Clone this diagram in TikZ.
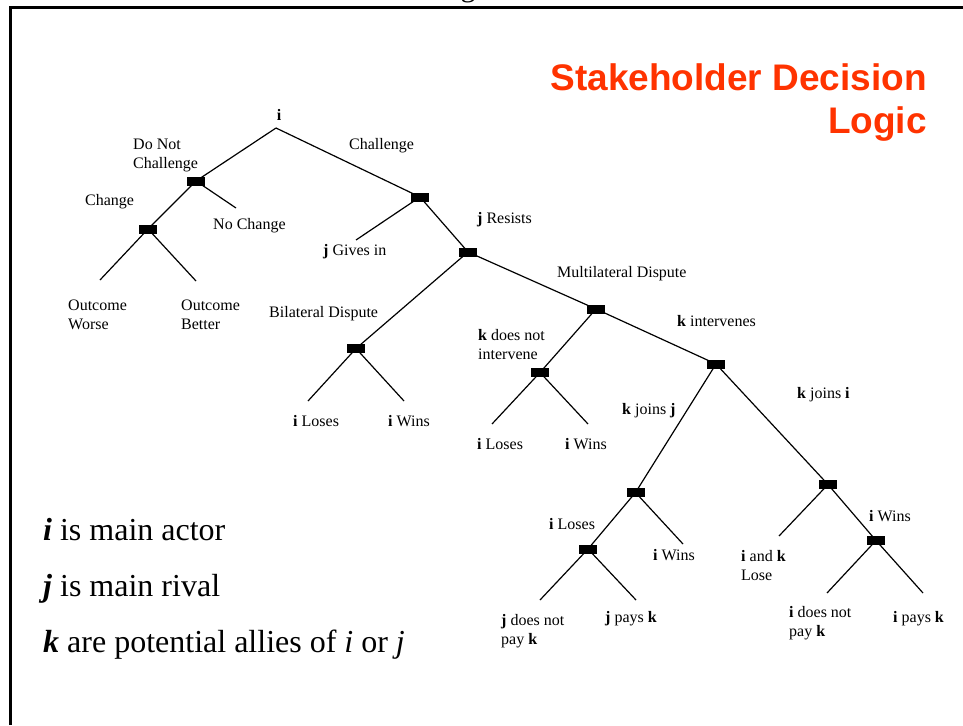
\documentclass[tikz,border=0pt]{standalone}
\usepackage{fontspec}
\setmainfont{Liberation Serif}
\newfontfamily\titlefont{Liberation Sans}
\definecolor{titleorange}{RGB}{255,51,0}
\tikzset{
  dnode/.style={fill=black, draw=none, minimum width=18pt, minimum height=9pt, inner sep=0pt, outer sep=0pt},
  branch/.style={line width=1.2pt},
  lbl/.style={anchor=west, inner sep=0pt, yshift=-2pt, font=\fontsize{16}{19}\selectfont, align=left},
  legendtxt/.style={anchor=base west, inner sep=0pt, font=\fontsize{32}{38}\selectfont},
  ttl/.style={anchor=base east, inner sep=0pt, font=\titlefont\bfseries\fontsize{37}{44}\selectfont, text=titleorange},
  frameline/.style={line width=2.8pt, line join=miter},
}
\begin{document}
\begin{tikzpicture}[x=1pt,y=-1pt]
\useasboundingbox (0,0) rectangle (963,725);
% frame
\coordinate (fbl) at (10.3,725);
\coordinate (ftl) at (10.3,7.3);
\coordinate (ftr) at (963,7.3);
\draw[frameline] (fbl) -- (ftl) -- (ftr);
% cut-off glyph of a title above the page
\node[anchor=base, inner sep=0pt, font=\fontsize{30}{36}\selectfont] (gfrag) at (468,-3.5) {g};

% decision nodes
\coordinate (R) at (276,128);
\node[dnode] (A) at (196,181) {};
\node[dnode] (B) at (148,229) {};
\node[dnode] (C) at (420,197) {};
\node[dnode] (D) at (468,252) {};
\node[dnode] (E) at (356,348.5) {};
\node[dnode] (F) at (596,309) {};
\node[dnode] (G) at (540,372.5) {};
\node[dnode] (H) at (716,364) {};
\node[dnode] (I) at (635.5,492.5) {};
\node[dnode] (J) at (588,549) {};
\node[dnode] (K) at (828,484.5) {};
\node[dnode] (L) at (876,540.5) {};
% leaf ends
\coordinate (B1) at (100,280);
\coordinate (B2) at (196,281);
\coordinate (A2) at (236,208);
\coordinate (C1) at (356,240);
\coordinate (E1) at (308,401);
\coordinate (E2) at (404,401);
\coordinate (G1) at (492,424);
\coordinate (G2) at (588,424);
\coordinate (I2) at (683,544);
\coordinate (J1) at (540,600);
\coordinate (J2) at (636,600);
\coordinate (K1) at (779,536);
\coordinate (L1) at (827,593);
\coordinate (L2) at (923,593);

% branches
\draw[branch] (R) -- (A.center);
\draw[branch] (R) -- (C.center);
\draw[branch] (A.center) -- (B.center);
\draw[branch] (A.center) -- (A2);
\draw[branch] (B.center) -- (B1);
\draw[branch] (B.center) -- (B2);
\draw[branch] (C.center) -- (C1);
\draw[branch] (C.center) -- (D.center);
\draw[branch] (D.center) -- (E.center);
\draw[branch] (D.center) -- (F.center);
\draw[branch] (E.center) -- (E1);
\draw[branch] (E.center) -- (E2);
\draw[branch] (F.center) -- (G.center);
\draw[branch] (F.center) -- (H.center);
\draw[branch] (G.center) -- (G1);
\draw[branch] (G.center) -- (G2);
\draw[branch] (H.center) -- (I.center);
\draw[branch] (H.center) -- (K.center);
\draw[branch] (I.center) -- (J.center);
\draw[branch] (I.center) -- (I2);
\draw[branch] (J.center) -- (J1);
\draw[branch] (J.center) -- (J2);
\draw[branch] (K.center) -- (K1);
\draw[branch] (K.center) -- (L.center);
\draw[branch] (L.center) -- (L1);
\draw[branch] (L.center) -- (L2);
% redraw boxes on top
\foreach \n in {A,B,C,D,E,F,G,H,I,J,K,L}{\fill (\n.south west) rectangle (\n.north east);}

% labels
\node[lbl, anchor=center] (tRoot) at (279,113) {\textbf{i}};
\node[lbl] (tDNC) at (133,153) {Do Not\\Challenge};
\node[lbl] (tCh) at (349,144) {Challenge};
\node[lbl] (tChange) at (85,200) {Change};
\node[lbl] (tNoCh) at (213,224) {No Change};
\node[lbl] (tGives) at (323,250) {\textbf{j} Gives in};
\node[lbl] (tRes) at (477,218) {\textbf{j} Resists};
\node[lbl] (tOW) at (68,313) {Outcome\\Worse};
\node[lbl] (tOB) at (181,313) {Outcome\\Better};
\node[lbl] (tBil) at (269,312) {Bilateral Dispute};
\node[lbl] (tMul) at (557,272) {Multilateral Dispute};
\node[lbl] (tKdn) at (478,343) {\textbf{k} does not\\intervene};
\node[lbl] (tKint) at (677,319) {\textbf{k} intervenes};
\node[lbl] (tEL) at (293,419) {\textbf{i} Loses};
\node[lbl] (tEW) at (388,419) {\textbf{i} Wins};
\node[lbl] (tGL) at (477,442) {\textbf{i} Loses};
\node[lbl] (tGW) at (565,442) {\textbf{i} Wins};
\node[lbl] (tKJj) at (622,409) {\textbf{k} joins \textbf{j}};
\node[lbl] (tKJi) at (797,393) {\textbf{k} joins \textbf{i}};
\node[lbl] (tIL) at (549,522) {\textbf{i} Loses};
\node[lbl] (tIW) at (653,553) {\textbf{i} Wins};
\node[lbl] (tIK) at (741,564) {\textbf{i} and \textbf{k}\\Lose};
\node[lbl] (tKW) at (869,514) {\textbf{i} Wins};
\node[lbl] (tJdn) at (501,629) {\textbf{j} does not\\pay \textbf{k}};
\node[lbl] (tJp) at (605,617) {\textbf{j} pays \textbf{k}};
\node[lbl] (tIdn) at (789,621) {\textbf{i} does not\\pay \textbf{k}};
\node[lbl] (tIp) at (893,617) {\textbf{i} pays \textbf{k}};

% title
\node[ttl] (title1) at (927,90) {Stakeholder Decision};
\node[ttl] (title2) at (927,133.3) {Logic};

% legend
\node[legendtxt] (leg1) at (43,540) {\textbf{\textit{i}} is main actor};
\node[legendtxt] (leg2) at (43,596) {\textbf{\textit{j}} is main rival};
\node[legendtxt] (leg3) at (43,652) {\textbf{\textit{k}} are potential allies of \textit{i} or \textit{j}};
\end{tikzpicture}
\end{document}
